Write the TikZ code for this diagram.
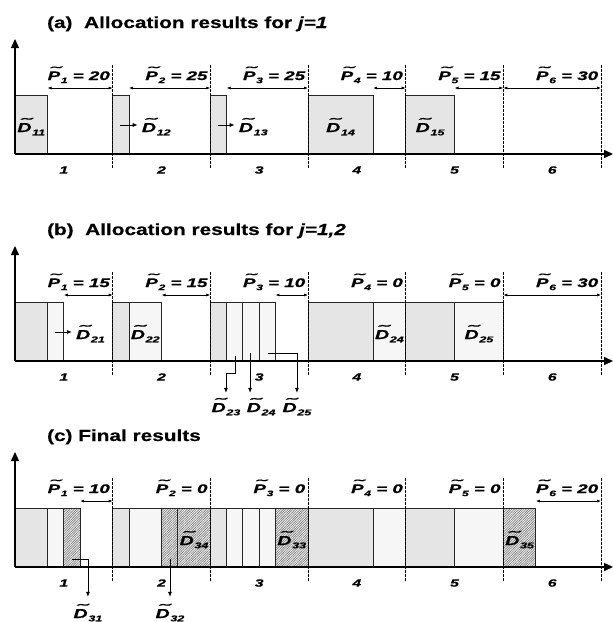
\documentclass[tikz,border=0pt]{standalone}
\usepackage{fontspec}
\setmainfont{Liberation Sans}
\newfontfamily\stretchfont[FakeStretch=1.5, FakeBold=0.6]{Liberation Sans}
\newfontfamily\titlefont[FakeStretch=1.3, FakeBold=0.4]{Liberation Sans}
\usetikzlibrary{arrows.meta,positioning,patterns.meta}
\definecolor{slotfill}{gray}{0.9}
\definecolor{hatchline}{gray}{0.4}
\definecolor{dotgray}{gray}{0.55}

\newsavebox{\tldbox}
\newcommand{\tld}[1]{%
  \sbox{\tldbox}{#1}%
  \makebox[\wd\tldbox][c]{\hspace{0.15em}\raisebox{0.36em}[0pt][0pt]{\scalebox{1.8}[1]{\mdseries\char"02DC}}}%
  \kern-\wd\tldbox\usebox{\tldbox}}
\newcommand{\subs}[1]{\kern0.06em\raisebox{-0.25em}{\scalebox{0.64}{#1}}}
\newcommand{\dv}[1]{\tld{D}\subs{#1}}
\newcommand{\pv}[2]{\tld{P}\subs{#1} = #2}

\begin{document}
\begin{tikzpicture}[x=1pt, y=-1pt,
  slot/.style={draw=black!85, line width=0.8pt, fill=slotfill},
  dotbox/.style={draw=black!85, line width=0.8pt,
                 pattern={Dots[distance=2pt, radius=0.35pt]}, pattern color=dotgray},
  hatchbox/.style={draw=black!85, line width=0.8pt, preaction={fill=gray!12},
                   pattern={Lines[angle=45, distance=1.7pt, line width=0.5pt]}, pattern color=hatchline},
  bound/.style={dash pattern=on 3pt off 1pt, line width=0.6pt},
  axisline/.style={-{Triangle[length=9pt, width=8pt]}, line width=1.3pt},
  span/.style={{Latex[length=4pt, width=3pt]}-{Latex[length=4pt, width=3pt]}, line width=0.7pt},
  lead/.style={-{Latex[length=5pt, width=4pt]}, line width=0.7pt},
  ttl/.style={font=\titlefont\bfseries\fontsize{16}{18}\selectfont, anchor=base west, inner sep=0pt},
  plabel/.style={font=\stretchfont\bfseries\itshape\fontsize{12.5}{14}\selectfont, anchor=base east, inner sep=1pt},
  dlabel/.style={font=\stretchfont\bfseries\itshape\fontsize{13}{15}\selectfont, inner sep=1pt},
  nlabel/.style={font=\stretchfont\bfseries\itshape\fontsize{10.5}{12}\selectfont, inner sep=1pt},
]
  \useasboundingbox (0,0) rectangle (613,622);

  % (a) j=1
  \begin{scope}[shift={(15,154)}, x=3.2556pt]
    \draw[slot] (0,0) rectangle (10,-59);
    \draw[slot] (30,0) rectangle (35,-59);
    \draw[slot] (60,0) rectangle (65,-59);
    \draw[slot] (90,0) rectangle (110,-59);
    \draw[slot] (120,0) rectangle (135,-59);
    \node[dlabel, anchor=base] (d11) at (5,-22) {\dv{11}};
    \node[dlabel, anchor=base west] (d12) at (38.6,-22) {\dv{12}};
    \node[dlabel, anchor=base west] (d13) at (68.4,-22) {\dv{13}};
    \node[dlabel, anchor=base] (d14) at (100,-22) {\dv{14}};
    \node[dlabel, anchor=base] (d15) at (127.5,-22) {\dv{15}};
    \coordinate (s12) at (32.3,-29);
    \coordinate (s13) at (62.3,-29);
    \draw[lead, shorten >=3pt] (s12) -- (s12 -| d12.west);
    \draw[lead, shorten >=3pt] (s13) -- (s13 -| d13.west);
    \draw[span] (10,-66) -- (30,-66);
    \draw[span] (35,-66) -- (60,-66);
    \draw[span] (65,-66) -- (90,-66);
    \draw[span] (110,-66) -- (120,-66);
    \draw[span] (135,-66) -- (150,-66);
    \draw[span] (150,-66) -- (180,-66);
    \foreach \k/\v in {1/20,2/25,3/25,4/10,5/15,6/30}
      \node[plabel] (pa\k) at (30*\k-0.5,-74) {\pv{\k}{\v}};
  \end{scope}

  % (b) j=1,2
  \begin{scope}[shift={(15,361)}, x=3.2556pt]
    \draw[slot] (0,0) rectangle (10,-59);
    \draw[dotbox] (10,0) rectangle (15,-59);
    \draw[slot] (30,0) rectangle (35,-59);
    \draw[dotbox] (35,0) rectangle (45,-59);
    \draw[slot] (60,0) rectangle (65,-59);
    \foreach \s in {65,70,75}
      \draw[dotbox] (\s,0) rectangle (\s+5,-59);
    \draw[slot] (90,0) rectangle (110,-59);
    \draw[dotbox] (110,0) rectangle (120,-59);
    \draw[slot] (120,0) rectangle (135,-59);
    \draw[dotbox] (135,0) rectangle (150,-59);
    \node[dlabel, anchor=base west] (d21) at (18.4,-22) {\dv{21}};
    \node[dlabel, anchor=base] (d22) at (40,-22) {\dv{22}};
    \node[dlabel, anchor=base] (d24) at (115,-22) {\dv{24}};
    \node[dlabel, anchor=base] (d25) at (142.5,-22) {\dv{25}};
    \coordinate (s21) at (12.3,-29);
    \draw[lead, shorten >=3pt] (s21) -- (s21 -| d21.west);
    \node[dlabel, anchor=base] (l23) at (64.8,51) {\dv{23}};
    \node[dlabel, anchor=base] (l24) at (75.6,51) {\dv{24}};
    \node[dlabel, anchor=base] (l25) at (86.6,51) {\dv{25}};
    \coordinate (s23) at (67.6,-5);
    \coordinate (s24) at (72.2,-8);
    \coordinate (s25) at (77.7,-8);
    \draw[lead, shorten >=9pt] (s23) -- ++(0,17) -| (l23.north);
    \draw[lead, shorten >=9pt] (s24) -- (s24 |- l24.north);
    \draw[lead, shorten >=9pt] (s25) -| (l25.north);
    \draw[span] (15,-66) -- (30,-66);
    \draw[span] (45,-66) -- (60,-66);
    \draw[span] (80,-66) -- (90,-66);
    \draw[span] (150,-66) -- (180,-66);
    \foreach \k/\v in {1/15,2/15,3/10,4/0,5/0,6/30}
      \node[plabel] (pb\k) at (30*\k-0.5,-74) {\pv{\k}{\v}};
  \end{scope}

  % (c) final
  \begin{scope}[shift={(15,567)}, x=3.2556pt]
    \draw[slot] (0,0) rectangle (10,-59);
    \draw[dotbox] (10,0) rectangle (15,-59);
    \draw[hatchbox] (15,0) rectangle (20,-59);
    \draw[slot] (30,0) rectangle (35,-59);
    \draw[dotbox] (35,0) rectangle (45,-59);
    \draw[hatchbox] (45,0) rectangle (50,-59);
    \draw[hatchbox] (50,0) rectangle (60,-59);
    \draw[slot] (60,0) rectangle (65,-59);
    \foreach \s in {65,70,75}
      \draw[dotbox] (\s,0) rectangle (\s+5,-59);
    \draw[hatchbox] (80,0) rectangle (90,-59);
    \draw[slot] (90,0) rectangle (110,-59);
    \draw[dotbox] (110,0) rectangle (120,-59);
    \draw[slot] (120,0) rectangle (135,-59);
    \draw[dotbox] (135,0) rectangle (150,-59);
    \draw[hatchbox] (150,0) rectangle (160,-59);
    \node[dlabel, anchor=base] (d34) at (55,-22) {\dv{34}};
    \node[dlabel, anchor=base] (d33) at (85,-22) {\dv{33}};
    \node[dlabel, anchor=base] (d35) at (155,-22) {\dv{35}};
    \node[dlabel, anchor=base] (d31) at (22.4,51) {\dv{31}};
    \node[dlabel, anchor=base] (d32) at (47.6,51) {\dv{32}};
    \coordinate (s31) at (17.5,-8);
    \coordinate (s32) at (47.6,-8);
    \draw[lead, shorten >=11pt] (s31) -| (d31.north);
    \draw[lead, shorten >=11pt] (s32) -- (d32.north);
    \draw[span] (20,-66) -- (30,-66);
    \draw[span] (160,-66) -- (180,-66);
    \foreach \k/\v in {1/10,2/0,3/0,4/0,5/0,6/20}
      \node[plabel] (pc\k) at (30*\k-0.5,-74) {\pv{\k}{\v}};
  \end{scope}

  % axes, period bounds and titles
  \foreach \py/\pn/\ttext in {154/a/{(a)\ \ Allocation results for \textit{j=1}},
                              361/b/{(b)\ \ Allocation results for \textit{j=1,2}},
                              567/c/{(c) Final results}} {
    \begin{scope}[shift={(15,\py)}, x=3.2556pt]
      \foreach \k in {1,...,6} {
        \draw[bound] (30*\k,-89) -- (30*\k,15);
        \node[nlabel] (n\pn\k) at (30*\k-15,16) {\k};
      }
      \draw[axisline] (0,0) -- (183.7,0);
      \draw[axisline] (0,0) -- (0,-115);
      \node[nlabel, anchor=west] (t\pn) at (183.6,16) {t};
      \node[ttl] (title\pn) at (9.8,-126) {\ttext};
    \end{scope}
  }
\end{tikzpicture}
\end{document}
